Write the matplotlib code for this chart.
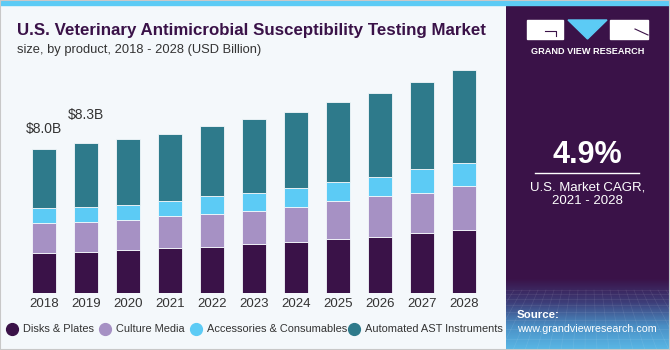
import numpy as np
import matplotlib
matplotlib.use('Agg')
import matplotlib.pyplot as plt
from matplotlib.patches import Rectangle, Polygon
from matplotlib.lines import Line2D
from matplotlib.colors import LinearSegmentedColormap

# data (USD Billion)
years = ['2018', '2019', '2020', '2021', '2022', '2023', '2024', '2025', '2026', '2027', '2028']
disks = [2.22, 2.26, 2.36, 2.48, 2.56, 2.69, 2.82, 2.98, 3.09, 3.30, 3.48]
culture = [1.63, 1.68, 1.68, 1.78, 1.83, 1.85, 1.96, 2.11, 2.26, 2.26, 2.46]
accessories = [0.83, 0.80, 0.82, 0.85, 1.00, 1.02, 1.06, 1.04, 1.09, 1.30, 1.24]
automated = [3.32, 3.56, 3.66, 3.72, 3.89, 4.09, 4.18, 4.45, 4.65, 4.84, 5.18]
series_names = ['Disks & Plates', 'Culture Media', 'Accessories & Consumables', 'Automated AST Instruments']
colors = ['#3a1248', '#a691c4', '#5ccbf5', '#2e7a8b']
labels = {0: '$8.0B', 1: '$8.3B'}

W, H = 670, 350
bg = '#f4f8fb'
purple = '#3a1248'
font = 'Liberation Sans'

fig = plt.figure(figsize=(6.7, 3.5), dpi=100)
fig.patch.set_facecolor(bg)

# main axes: baseline at y=292.7px, bar centres 43.7 + 42*i
ax = fig.add_axes([0, (H - 292.7) / H, 505 / W, (292.7 - 60) / H])
ax.set_facecolor('none')
x = np.arange(len(years))
bottom = np.zeros(len(years))
for vals, c in zip([disks, culture, accessories, automated], colors):
    ax.bar(x, vals, width=0.57, bottom=bottom, color=c, edgecolor=bg, linewidth=0.6)
    bottom += np.array(vals)

ax.set_xlim(-43.7 / 42, (505 - 43.7) / 42)
ax.set_ylim(0, (292.7 - 60) / 18.0)
for s in ax.spines.values():
    s.set_visible(False)
ax.set_yticks([])
ax.set_xticks(x)
ax.set_xticklabels(years, fontsize=9.5, color='#333333', fontname=font)
ax.tick_params(axis='x', length=0, pad=4)

offs = {0: 13, 1: 21}
for i, txt in labels.items():
    ax.annotate(txt, (x[i], bottom[i]), xytext=(0, offs[i]), textcoords='offset pixels',
                ha='center', va='bottom', fontsize=10, color='#333333', fontname=font)

# titles
fig.text(17 / W, 1 - 30 / H, 'U.S. Veterinary Antimicrobial Susceptibility Testing Market',
         fontsize=12.2, fontweight='bold', color=purple, va='center', ha='left', fontname=font)
fig.text(17 / W, 1 - 50 / H, 'size, by product, 2018 - 2028 (USD Billion)',
         fontsize=9.3, color='#333333', va='center', ha='left', fontname=font)

# legend
leg_x = [12, 105, 196, 354]
for lx, name, c in zip(leg_x, series_names, colors):
    fig.add_artist(Line2D([lx / W], [1 - 329 / H], marker='o', markersize=8.5,
                          color=c, linestyle='none', transform=fig.transFigure))
    fig.text((lx + 11) / W, 1 - 329 / H, name, fontsize=7.9, color='#333333',
             va='center', ha='left', fontname=font)

# right panel
pax = fig.add_axes([506 / W, 0, (W - 506) / W, 1])
pax.set_xlim(506, W)
pax.set_ylim(H, 0)
pax.axis('off')
pax.add_patch(Rectangle((506, 0), W - 506, H, color=purple, zorder=0))
cmap = LinearSegmentedColormap.from_list('g', ['#3a1248', '#3d3d78', '#4a8ec4', '#5ab8e6'])
grad = np.linspace(0, 1, 100).reshape(-1, 1)
pax.imshow(grad, cmap=cmap, extent=(506, W, H, 278), aspect='auto', zorder=1)
# faint grid texture
for gx in np.arange(506, W + 40, 8):
    pax.plot([gx, gx + (gx - 588) * 0.5], [290, H], color='white', alpha=0.09, lw=0.5, zorder=2)
for gy in [290, 294, 299, 305, 312, 320, 329, 339, 349]:
    pax.plot([506, W], [gy, gy], color='white', alpha=0.09, lw=0.5, zorder=2)

# logo
pax.add_patch(Rectangle((527, 20), 36, 19, color='white', zorder=3))
pax.add_patch(Polygon([[568, 20], [607, 20], [587.5, 39]], color='#5ccbf5', zorder=3))
pax.add_patch(Rectangle((610, 20), 38, 19, color='white', zorder=3))
pax.plot([545, 556, 556], [31, 31, 36], color=purple, lw=0.8, zorder=4)
pax.plot([635, 648], [29, 35], color=purple, lw=0.8, zorder=4)
pax.text(587.5, 51, 'GRAND VIEW RESEARCH', color='white', fontsize=6.6, fontweight='bold',
         ha='center', va='center', fontname=font, zorder=4)

pax.text(587.5, 155, '4.9%', color='white', fontsize=22, fontweight='bold',
         ha='center', va='center', fontname=font, zorder=4)
pax.plot([535, 639], [173, 173], color='white', lw=1, zorder=4)
pax.text(587.5, 187, 'U.S. Market CAGR,', color='white', fontsize=9.5,
         ha='center', va='center', fontname=font, zorder=4)
pax.text(587.5, 201, '2021 - 2028', color='white', fontsize=9.5,
         ha='center', va='center', fontname=font, zorder=4)
pax.text(517, 315, 'Source:', color='white', fontsize=8.2, fontweight='bold',
         ha='left', va='center', fontname=font, zorder=4)
pax.text(517, 329, 'www.grandviewresearch.com', color='white', fontsize=7.7,
         ha='left', va='center', fontname=font, zorder=4)

# top stripe and frame
fig.add_artist(Rectangle((0, 1 - 5 / H), 1, 5 / H, color='#5ccbf5', transform=fig.transFigure))
fig.add_artist(Rectangle((0, 0), 1, 1, fill=False, edgecolor='#c8c8c8', lw=1.5, transform=fig.transFigure))

fig.savefig('out.png', dpi=100, facecolor=bg)
